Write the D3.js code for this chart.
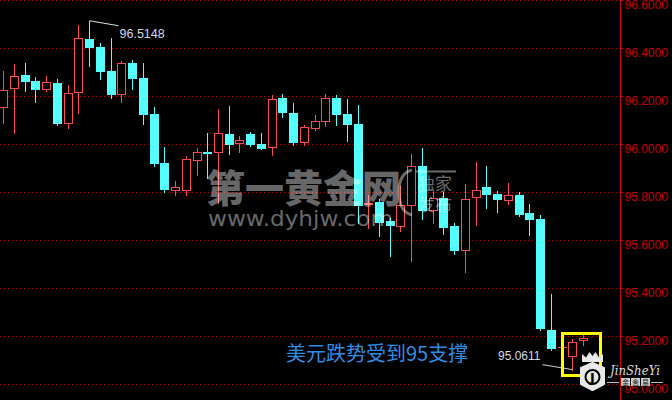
<!DOCTYPE html>
<html><head><meta charset="utf-8">
<script src="https://cdn.jsdelivr.net/npm/d3@7"></script>
<style>html,body{margin:0;padding:0;background:#000;overflow:hidden}</style>
</head><body>
<svg id="c" width="672" height="400" xmlns="http://www.w3.org/2000/svg"></svg>
<script>
// ---- data ----
const candleIndex = d3.range(55);
const opens  = [96.1554,96.2346,96.2888,96.2638,96.2304,96.2554,96.0888,96.2179,96.4388,96.4054,
                96.3054,96.2096,96.3388,96.2763,96.1263,95.9221,95.8096,95.8096,95.9346,95.9679,
                95.9679,96.0429,96.0054,96.0429,96.0013,95.9888,96.1929,96.1304,96.0096,96.0679,
                96.0971,96.1929,96.1263,96.0846,95.7513,95.7596,95.6804,95.6596,95.7471,95.9096,
                95.7263,95.7763,95.6596,95.5596,95.7804,95.8221,95.7929,95.7679,95.7888,95.7138,
                95.6888,95.2263,95.1554,95.1179,95.1846];
const highs  = [96.3054,96.3346,96.3388,96.2804,96.2846,96.2721,96.2471,96.4971,96.5148,96.4221,
                96.4429,96.3471,96.3513,96.3388,96.1554,95.9888,95.8471,95.9513,95.9846,96.0471,
                96.1471,96.1596,96.0346,96.0513,96.0471,96.2054,96.2096,96.1721,96.0804,96.1221,
                96.2096,96.2054,96.1888,96.1638,95.7888,95.7721,95.6929,95.8263,95.9596,95.9846,
                95.8013,95.8013,95.6721,95.8346,95.9263,95.9096,95.8054,95.8388,95.8013,95.7513,
                95.7054,95.3763,95.1554,95.1888,95.2054];
const lows   = [96.0888,96.0471,96.2221,96.1763,96.2221,96.0804,96.0679,96.1304,96.3263,96.2721,
                96.1929,96.1763,96.2304,96.0846,95.9096,95.8013,95.7888,95.7888,95.8721,95.8596,
                95.7554,95.9596,95.9679,95.9929,95.9804,95.9554,96.1138,95.9971,95.9971,96.0596,
                96.0763,96.0804,96.0138,95.6721,95.6513,95.6179,95.5346,95.6388,95.5138,95.6888,
                95.6721,95.6263,95.5429,95.4679,95.6638,95.7346,95.7179,95.7513,95.7013,95.6221,
                95.2263,95.1429,95.1554,95.0611,95.1638];
const closes = [96.2263,96.2846,96.2638,96.2304,96.2596,96.0888,96.2138,96.4429,96.4054,96.3054,
                96.2096,96.3388,96.2763,96.1263,95.9221,95.8138,95.8221,95.9388,95.9679,95.9658,
                96.0471,96.0013,96.0179,96.0013,95.9846,96.1888,96.1346,96.0096,96.0721,96.0971,
                96.1929,96.1263,96.0846,95.7471,95.7554,95.6763,95.6638,95.7471,95.9096,95.7263,
                95.7763,95.6554,95.5596,95.7721,95.8096,95.7929,95.7721,95.7888,95.7096,95.6888,
                95.2346,95.1513,95.1554,95.1763,95.1929];
const priceTicks = [95.0,95.2,95.4,95.6,95.8,96.0,96.2,96.4,96.6];
const tickLabels = ["95.0000","95.2000","95.4000","95.6000","95.8000","96.0000","96.2000","96.4000","96.6000"];
const highMarkIndex = 8, highMarkLabel = "96.5148";
const lowMarkIndex = 53, lowMarkLabel = "95.0611";
const noteText = "美元跌势受到95支撑";

// ---- layout ----
const W = 672, H = 400, axisX = 620;
const UP = "#ff4d4d", DOWN = "#55ffff", AXIS = "#c80000";
const svg = d3.select("#c");
svg.append("rect").attr("width", W).attr("height", H).attr("fill", "#000");

const x = d3.scaleLinear().domain([0, 54]).range([3.26, 583]);
const y = d3.scaleLinear().domain([95.0, 96.6]).range([384.3, 0.3]);
const py = v => Math.round(y(v));

// grid
svg.append("g").selectAll("line").data(priceTicks).join("line")
  .attr("x1", 0).attr("x2", axisX - 1)
  .attr("y1", d => py(d) + 0.5).attr("y2", d => py(d) + 0.5)
  .attr("stroke", "#b00000").attr("stroke-width", 1).attr("stroke-dasharray", "1,3");

// candles
const data = candleIndex.map(i => ({i, o: opens[i], h: highs[i], l: lows[i], c: closes[i]}));
const cg = svg.append("g");
data.forEach(d => {
  const up = d.c >= d.o;
  const col = up ? UP : DOWN;
  const left = Math.round(x(d.i) - 4);
  const cx = left + 4.5;
  const yt = py(Math.max(d.o, d.c)), yb = py(Math.min(d.o, d.c));
  const yh = py(d.h), yl = py(d.l);
  if (yl - yh > 0) {
    cg.append("line").attr("x1", cx).attr("x2", cx).attr("y1", yh).attr("y2", yl + 1)
      .attr("stroke", col).attr("stroke-width", 1);
  }
  if (yb - yt < 1) {
    cg.append("line").attr("x1", left).attr("x2", left + 9)
      .attr("y1", yt + 0.5).attr("y2", yt + 0.5).attr("stroke", col).attr("stroke-width", 1);
  } else if (up) {
    cg.append("rect").attr("x", left + 0.5).attr("y", yt + 0.5)
      .attr("width", 8).attr("height", yb - yt)
      .attr("fill", "#000").attr("stroke", col).attr("stroke-width", 1);
  } else {
    cg.append("rect").attr("x", left).attr("y", yt)
      .attr("width", 9).attr("height", yb - yt + 1).attr("fill", col);
  }
});

// watermark
const wm = svg.append("g").attr("fill", "#fff").attr("fill-opacity", 0.42);
wm.append("text").attr("x", 206).attr("y", 202)
  .attr("font-family", "'Noto Sans CJK SC'").attr("font-weight", 900)
  .attr("font-size", 38).attr("textLength", 195).attr("lengthAdjust", "spacingAndGlyphs")
  .text("第一黄金网");
wm.append("text").attr("x", 208).attr("y", 226)
  .attr("font-family", "'DejaVu Sans'").attr("font-size", 22)
  .attr("textLength", 185).attr("lengthAdjust", "spacingAndGlyphs")
  .text("www.dyhjw.com");
wm.append("text").attr("x", 418).attr("y", 190)
  .attr("font-family", "'Noto Sans CJK SC'").attr("font-size", 17).text("独家");
wm.append("text").attr("x", 418).attr("y", 211)
  .attr("font-family", "'Noto Sans CJK SC'").attr("font-size", 17).text("发布");
svg.append("path").attr("d", "M412,170 Q399,173 399,192 Q399,212 412,215")
  .attr("fill", "none").attr("stroke", "#fff").attr("stroke-opacity", 0.42).attr("stroke-width", 3);
svg.append("line").attr("x1", 416).attr("x2", 456).attr("y1", 171.5).attr("y2", 171.5)
  .attr("stroke", "#fff").attr("stroke-opacity", 0.42).attr("stroke-width", 2);

// high / low markers
const hx = Math.round(x(highMarkIndex) - 4) + 4.5, hy = y(highs[highMarkIndex]);
svg.append("polyline").attr("points", `${hx},${hy} ${hx + 29},${hy + 5}`)
  .attr("fill", "none").attr("stroke", "#e0e0e0").attr("stroke-width", 1);
svg.append("text").attr("x", hx + 30).attr("y", hy + 17.5)
  .attr("font-family", "'Liberation Sans', Arial").attr("font-size", 12.5)
  .attr("fill", "#d4dcec").text(highMarkLabel);

const lx = Math.round(x(lowMarkIndex) - 4) + 4.5, ly = y(lows[lowMarkIndex]);
svg.append("polyline").attr("points", `${lx},${ly} ${lx - 30},${ly - 5}`)
  .attr("fill", "none").attr("stroke", "#d0d0d0").attr("stroke-width", 1);
svg.append("text").attr("x", lx - 32).attr("y", ly - 9.5).attr("text-anchor", "end")
  .attr("font-family", "'Liberation Sans', Arial").attr("font-size", 12)
  .attr("fill", "#d4dcec").text(lowMarkLabel);

// highlight box around last candles
svg.append("rect").attr("x", 562.5).attr("y", 333.5).attr("width", 38).attr("height", 42)
  .attr("fill", "none").attr("stroke", "#ffff00").attr("stroke-width", 3);

// note
svg.append("text").attr("x", 286).attr("y", 361)
  .attr("font-family", "'Noto Sans CJK SC'").attr("font-size", 20)
  .attr("fill", "#2e8ee6").text(noteText);

// right axis
svg.append("line").attr("x1", axisX + 0.5).attr("x2", axisX + 0.5).attr("y1", 0).attr("y2", H)
  .attr("stroke", AXIS).attr("stroke-width", 1);
const ax = svg.append("g").attr("transform", `translate(${axisX + 0.5},0)`)
  .call(d3.axisRight(y).tickValues(priceTicks).tickFormat((d, i) => tickLabels[i])
    .tickSizeInner(3).tickSizeOuter(0).tickPadding(1));
ax.select(".domain").remove();
ax.selectAll(".tick").attr("transform", d => `translate(0,${py(d) + 0.5})`);
ax.selectAll(".tick line").attr("stroke", AXIS);
ax.selectAll(".tick text").attr("fill", AXIS).attr("dy", "0.72em")
  .attr("font-family", "'Liberation Sans', Arial").attr("font-size", 12);

// logo (bottom right)
const lg = svg.append("g").attr("fill", "#e8e8e8");
lg.append("polygon").attr("points", "582,362 582,354 586,357.5 589.5,352 592.5,356 595.5,352 599,357.5 603,354 603,362");
lg.append("path").attr("d", "M592.5,363 L604,368 L604,384 L592.5,390 L581,384 L581,368 Z")
  .attr("stroke", "#e8e8e8").attr("stroke-width", 2).attr("stroke-linejoin", "round");
lg.append("circle").attr("cx", 592.5).attr("cy", 377).attr("r", 7).attr("fill", "none")
  .attr("stroke", "#000").attr("stroke-width", 2);
lg.append("text").attr("x", 592.5).attr("y", 382).attr("text-anchor", "middle")
  .attr("font-family", "'DejaVu Sans'").attr("font-weight", "bold").attr("font-size", 13)
  .attr("fill", "#000").text("J");
lg.append("text").attr("x", 610).attr("y", 375)
  .attr("font-family", "'DejaVu Serif'").attr("font-style", "italic").attr("font-size", 13)
  .attr("textLength", 50).attr("lengthAdjust", "spacingAndGlyphs").attr("fill", "#dcdcdc").text("JinSheYi");
lg.append("line").attr("x1", 607).attr("x2", 619).attr("y1", 382.5).attr("y2", 382.5).attr("stroke", "#bbb");
lg.append("line").attr("x1", 651).attr("x2", 663).attr("y1", 382.5).attr("y2", 382.5).attr("stroke", "#bbb");
["金","舍","易"].forEach((ch, k) => {
  lg.append("rect").attr("x", 621 + k * 10).attr("y", 378).attr("width", 9).attr("height", 8).attr("fill", "#ccc");
  lg.append("text").attr("x", 625.5 + k * 10).attr("y", 385).attr("text-anchor", "middle")
    .attr("font-family", "'Noto Sans CJK SC'").attr("font-size", 7).attr("fill", "#222").text(ch);
});
</script>
</body></html>
